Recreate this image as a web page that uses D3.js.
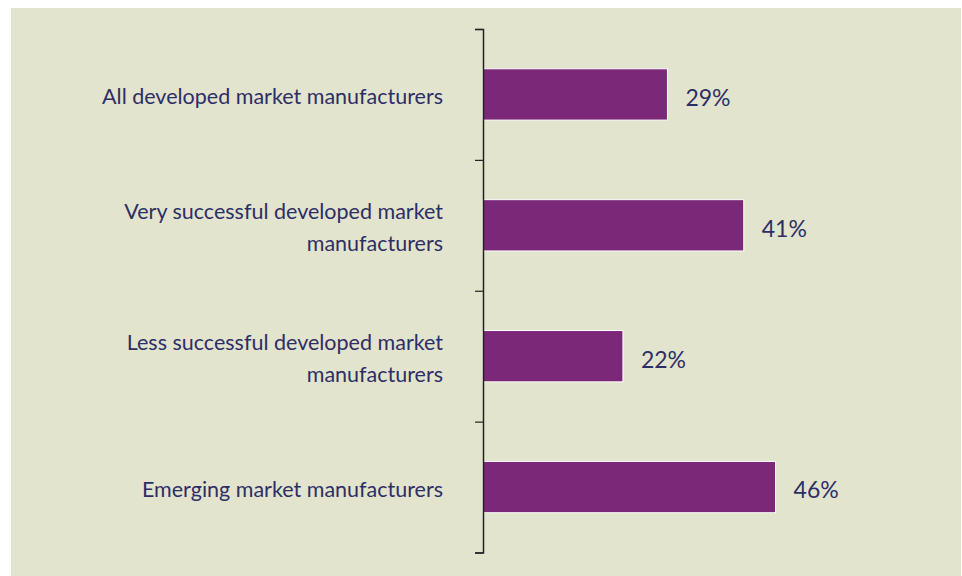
<!DOCTYPE html>
<html><head><meta charset="utf-8">
<script src="https://cdn.jsdelivr.net/npm/d3@7"></script>
<style>body{margin:0;background:#fff;} text{font-family:Lato,"Open Sans",sans-serif;}</style>
</head><body>
<script>
const categories = [
  ["All developed market manufacturers"],
  ["Very successful developed market", "manufacturers"],
  ["Less successful developed market", "manufacturers"],
  ["Emerging market manufacturers"]
];
const values = [29, 41, 22, 46];
const valueLabels = ["29%", "41%", "22%", "46%"];

const W = 962, H = 576;
const svg = d3.select("body").append("svg").attr("width", W).attr("height", H);
svg.append("rect").attr("x", 11).attr("y", 8).attr("width", 950).attr("height", 568).attr("fill", "#e3e4cd");

const axisX = 483, plotTop = 29, plotBottom = 552.5;
const keys = categories.map((c, i) => "c" + i);
const y = d3.scaleBand().domain(keys).range([plotTop, plotBottom]).paddingInner(0.608).paddingOuter(0.304);
const x = d3.scaleLinear().domain([0, 50]).range([axisX, axisX + 318]);
const yt = d3.scaleLinear().domain([0, 4]).range([plotTop, plotBottom]);

svg.selectAll("rect.bar").data(values).join("rect").attr("class", "bar")
  .attr("x", x(0)).attr("y", (d, i) => y(keys[i]))
  .attr("width", d => x(d) - x(0)).attr("height", y.bandwidth())
  .attr("fill", "#7b2879").attr("stroke", "#ffffff").attr("stroke-width", 1);

const ax = svg.append("g").attr("transform", `translate(${axisX},0)`)
  .call(d3.axisLeft(yt).ticks(4).tickSize(8).tickSizeOuter(8).tickFormat(""));
ax.select(".domain").attr("stroke", "#222").attr("stroke-width", 1.5);
ax.selectAll(".tick line").attr("stroke", "#222").attr("stroke-width", 1.2);

const textColor = "#2e2e66";
const fs = 21.5, lh = 32;
categories.forEach((lines, i) => {
  const cy = y(keys[i]) + y.bandwidth() / 2;
  const t = svg.append("text").attr("text-anchor", "end").attr("fill", textColor)
    .attr("font-size", fs);
  lines.forEach((ln, j) => {
    t.append("tspan").attr("x", 443)
      .attr("y", cy + (j - (lines.length - 1) / 2) * lh + 3)
      .attr("dy", "0.32em").text(ln);
  });
});

svg.selectAll("text.val").data(values).join("text").attr("class", "val")
  .attr("x", d => x(d) + 18).attr("y", (d, i) => y(keys[i]) + y.bandwidth() / 2 + 4)
  .attr("dy", "0.32em").attr("fill", textColor).attr("font-size", 23)
  .text((d, i) => valueLabels[i]);
</script>
</body></html>
